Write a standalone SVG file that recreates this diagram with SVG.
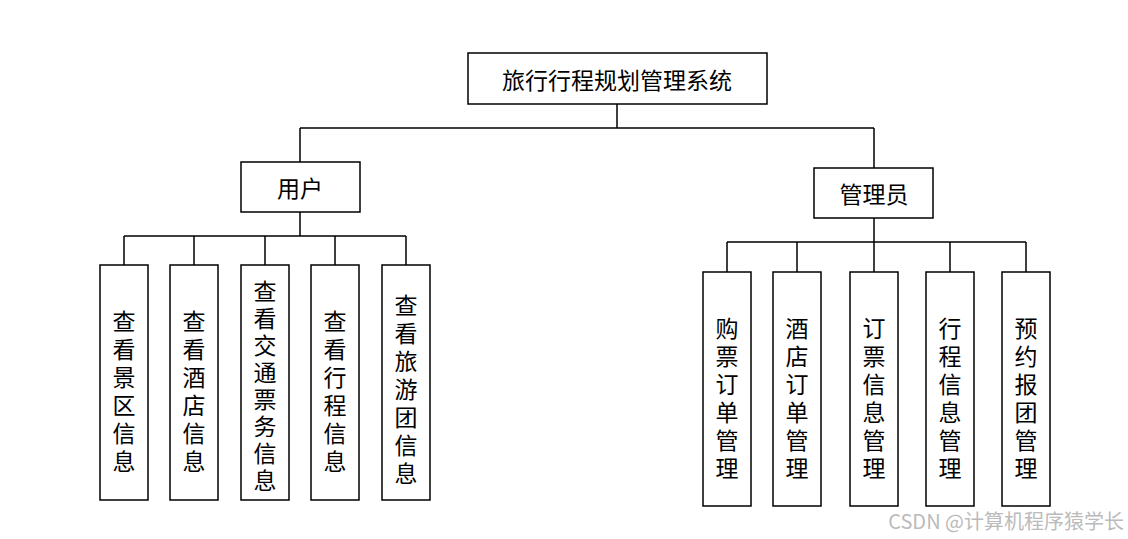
<svg xmlns="http://www.w3.org/2000/svg" width="1128" height="539" viewBox="0 0 1128 539">
<style>
rect{fill:#fff;stroke:#000;stroke-width:1.5}
.c path{fill:none;stroke:#000;stroke-width:1.5}
text{font-family:"Noto Sans CJK SC","Liberation Serif",serif;font-size:23px;fill:#000;text-anchor:middle;dominant-baseline:central}
</style>
<rect width="1128" height="539" style="fill:#fff;stroke:none"/>
<g class="c">
<path d="M617 104V128M300 128H874M300 128V162M874 128V168"/>
<path d="M300 212V236M124 236H406M124 236V265M194 236V265M265 236V265M335 236V265M406 236V265"/>
<path d="M874 218V242M727 242H1026M727 242V272M797 242V272M874 242V272M950 242V272M1026 242V272"/>
</g>
<g id="root"><rect x="468" y="53" width="299" height="51"/><text x="617" y="79">旅行行程规划管理系统</text></g>
<g id="user"><rect x="241" y="162" width="119" height="50"/><text x="300" y="187">用户</text></g>
<g id="admin"><rect x="814" y="168" width="119" height="50"/><text x="874" y="193">管理员</text></g>
<g id="u1"><rect x="100" y="265" width="48" height="235"/><text x="124"><tspan x="124" y="320">查</tspan><tspan x="124" y="348">看</tspan><tspan x="124" y="376">景</tspan><tspan x="124" y="404">区</tspan><tspan x="124" y="432">信</tspan><tspan x="124" y="460">息</tspan></text></g>
<g id="u2"><rect x="170" y="265" width="48" height="235"/><text x="194"><tspan x="194" y="320">查</tspan><tspan x="194" y="348">看</tspan><tspan x="194" y="376">酒</tspan><tspan x="194" y="404">店</tspan><tspan x="194" y="432">信</tspan><tspan x="194" y="460">息</tspan></text></g>
<g id="u3"><rect x="241" y="265" width="48" height="235"/><text x="265"><tspan x="265" y="290">查</tspan><tspan x="265" y="317">看</tspan><tspan x="265" y="344">交</tspan><tspan x="265" y="371">通</tspan><tspan x="265" y="398">票</tspan><tspan x="265" y="425">务</tspan><tspan x="265" y="452">信</tspan><tspan x="265" y="479">息</tspan></text></g>
<g id="u4"><rect x="311" y="265" width="48" height="235"/><text x="335"><tspan x="335" y="320">查</tspan><tspan x="335" y="348">看</tspan><tspan x="335" y="376">行</tspan><tspan x="335" y="404">程</tspan><tspan x="335" y="432">信</tspan><tspan x="335" y="460">息</tspan></text></g>
<g id="u5"><rect x="382" y="265" width="48" height="235"/><text x="406"><tspan x="406" y="304">查</tspan><tspan x="406" y="332">看</tspan><tspan x="406" y="360">旅</tspan><tspan x="406" y="388">游</tspan><tspan x="406" y="416">团</tspan><tspan x="406" y="444">信</tspan><tspan x="406" y="472">息</tspan></text></g>
<g id="a1"><rect x="703" y="272" width="48" height="234"/><text x="727"><tspan x="727" y="327">购</tspan><tspan x="727" y="355">票</tspan><tspan x="727" y="383">订</tspan><tspan x="727" y="411">单</tspan><tspan x="727" y="439">管</tspan><tspan x="727" y="467">理</tspan></text></g>
<g id="a2"><rect x="773" y="272" width="48" height="234"/><text x="797"><tspan x="797" y="327">酒</tspan><tspan x="797" y="355">店</tspan><tspan x="797" y="383">订</tspan><tspan x="797" y="411">单</tspan><tspan x="797" y="439">管</tspan><tspan x="797" y="467">理</tspan></text></g>
<g id="a3"><rect x="850" y="272" width="48" height="234"/><text x="874"><tspan x="874" y="327">订</tspan><tspan x="874" y="355">票</tspan><tspan x="874" y="383">信</tspan><tspan x="874" y="411">息</tspan><tspan x="874" y="439">管</tspan><tspan x="874" y="467">理</tspan></text></g>
<g id="a4"><rect x="926" y="272" width="48" height="234"/><text x="950"><tspan x="950" y="327">行</tspan><tspan x="950" y="355">程</tspan><tspan x="950" y="383">信</tspan><tspan x="950" y="411">息</tspan><tspan x="950" y="439">管</tspan><tspan x="950" y="467">理</tspan></text></g>
<g id="a5"><rect x="1002" y="272" width="48" height="234"/><text x="1026"><tspan x="1026" y="327">预</tspan><tspan x="1026" y="355">约</tspan><tspan x="1026" y="383">报</tspan><tspan x="1026" y="411">团</tspan><tspan x="1026" y="439">管</tspan><tspan x="1026" y="467">理</tspan></text></g>
<text x="1124" y="520" style="font-size:20px;fill:#bbb;text-anchor:end">CSDN @计算机程序猿学长</text>
</svg>
